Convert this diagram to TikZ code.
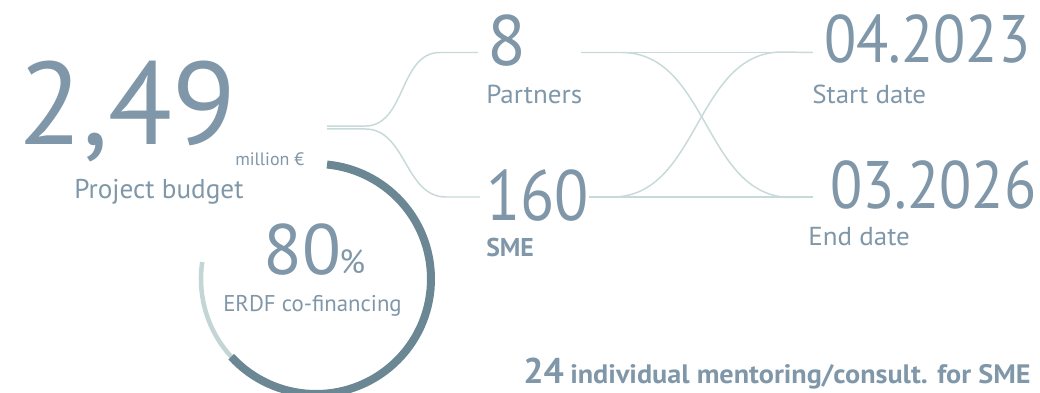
\documentclass[tikz,border=0pt]{standalone}
\usepackage{fontspec}
\setmainfont{PT Sans}

\definecolor{figtext}{HTML}{7F97A8}
\definecolor{ringdark}{HTML}{6B8794}
\definecolor{ringlight}{HTML}{C3D5D5}
\definecolor{flowline}{HTML}{C8D9D9}

\newcommand{\fsz}[1]{\fontsize{#1}{#1}\selectfont}

\begin{document}
\begin{tikzpicture}[x=0.75pt, y=-0.75pt]
        \useasboundingbox (0,0) rectangle (1040,393);

        \begin{scope}[%
            every node/.style = {%
                anchor = base west,
                inner sep = 0pt,
                text = figtext
            }
        ]

            % Figures and their captions.
            \node[text depth=0pt] (budget) at (18,144) {\fsz{88}2,49};
            \node (million) at (235,165) {\fsz{13.5}million €};
            \node (budgetcap) at (74,198) {\fsz{20.4}Project budget};
            \node (rate) at (263,274) {\fsz{53.5}80};
            \node (pct) at (339,273) {\fsz{25}\%};
            \node (ratecap) at (223,311) {\fsz{17.1}ERDF co-financing};
            \node (partners) at (487,65) {\fsz{53.5}8};
            \node[xscale=1.04] (partnerscap) at (486,103) {\fsz{19.5}Partners};
            \node[xscale=0.88] (sme) at (486,220) {\fsz{53.5}160};
            \node (smecap) at (486,256) {\fsz{19.3}\bfseries SME};
            \node[xscale=0.88] (start) at (824,62) {\fsz{50.4}04.2023};
            \node[xscale=1.04] (startcap) at (812,103) {\fsz{19.5}Start date};
            \node[xscale=0.88] (finish) at (830,208) {\fsz{50.4}03.2026};
            \node[xscale=1.04] (finishcap) at (808,245) {\fsz{19.5}End date};
            \node (mentor) at (523,383) {\fsz{26.8}\bfseries 24};
            \node[xscale=1.057] (mentorcap) at (570,383) {\fsz{20}\bfseries individual mentoring/consult. for SME};
        \end{scope}

        \begin{scope}[%
            draw = flowline,
            line width = 1.1pt
        ]

            % Branches out of the budget.
            \coordinate (fork) at (327,127.5);
            \draw [flowline] ([yshift=1.1pt]fork) -- ++(38,0) to[out=0, in=180] ([xshift=-35.25pt, yshift=9.375pt]partners.base west) -- ([xshift=-6.75pt, yshift=9.375pt]partners.base west);
            \draw [flowline] ([yshift=-1.1pt]fork) -- ++(38,0) to[out=0, in=180] ([xshift=-30pt, yshift=17.25pt]sme.base west) -- ([xshift=-4.5pt, yshift=17.25pt]sme.base west);

            % Lines to the dates.
            \draw [flowline] ([xshift=41.25pt, yshift=9.375pt]partners.base east) -- ([xshift=-8.25pt, yshift=7.125pt]start.base west);
            \draw [flowline] ([yshift=17.25pt]sme.base east) -- ([xshift=-12.75pt, yshift=8.25pt]finish.base west);
            \draw [flowline] ([xshift=41.25pt, yshift=9.375pt]partners.base east) -- ++(40,0) to[out=0, in=180] ++(170,145) -- ([xshift=-12.75pt, yshift=8.25pt]finish.base west);
            \draw [flowline] ([yshift=17.25pt]sme.base east) -- ++(23,0) to[out=0, in=180] ++(170,-145) -- ([xshift=-8.25pt, yshift=7.125pt]start.base west);
        \end{scope}

        \begin{scope}

            % Co-financing ring.
            \coordinate (ring) at (316,279);
            \draw [ringlight, line width=3.4pt] (ring) ++(188.5:115) arc [start angle=188.5, end angle=137.5, radius=115];
            \draw [ringdark, line width=6pt] (ring) ++(137.5:115) arc [start angle=137.5, end angle=-84.5, radius=115];
        \end{scope}
    \end{tikzpicture}
\end{document}
